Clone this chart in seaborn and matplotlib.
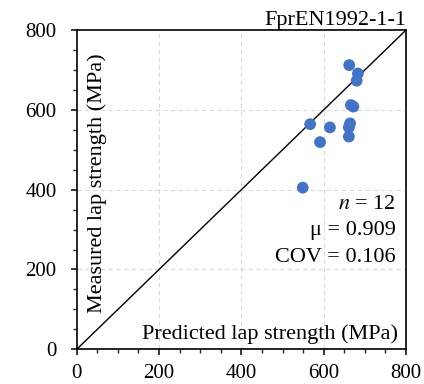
import matplotlib
matplotlib.use("Agg")
import matplotlib.pyplot as plt
import seaborn as sns
import pandas as pd
from matplotlib.ticker import MultipleLocator

predicted = [662, 683, 680, 666, 672, 567, 615, 664, 661, 661, 591, 549]
measured = [712, 691, 673, 612, 608, 564, 556, 566, 556, 533, 519, 405]
ticks = [0, 200, 400, 600, 800]

df = pd.DataFrame({"Predicted": predicted, "Measured": measured})

sns.set_theme(style="white")
plt.rcParams['font.family'] = ['Liberation Serif', 'DejaVu Serif']
plt.rcParams['mathtext.fontset'] = 'stix'

fig = plt.figure(figsize=(4.24, 3.84), dpi=100)
ax = fig.add_axes([0.181, 0.0904, 0.7767, 0.8315])

for v in [200, 400, 600]:
    ax.axhline(v, color='#d9d9d9', lw=0.8, ls=(0, (4, 3)), zorder=0)
    ax.axvline(v, color='#d9d9d9', lw=0.8, ls=(0, (4, 3)), zorder=0)

ax.plot([0, 800], [0, 800], color='black', lw=1.0, zorder=1)
sns.scatterplot(data=df, x="Predicted", y="Measured", ax=ax, color='#4472C4',
                s=72, edgecolor='none', zorder=3, legend=False)

ax.set_xlim(0, 800)
ax.set_ylim(0, 800)
ax.set_xticks(ticks)
ax.set_yticks(ticks)
ax.xaxis.set_minor_locator(MultipleLocator(50))
ax.yaxis.set_minor_locator(MultipleLocator(50))
ax.tick_params(axis='both', which='major', direction='out', length=4.5, width=1.1,
               labelsize=15, colors='black', bottom=True, left=True)
ax.tick_params(axis='x', which='major', pad=6)
ax.tick_params(axis='y', which='major', pad=10)
ax.tick_params(axis='both', which='minor', direction='out', length=3, width=1.0,
               bottom=True, left=True)
for s in ax.spines.values():
    s.set_color('black')
    s.set_linewidth(1.2)
ax.set_xlabel("")
ax.set_ylabel("")

ax.set_title("FprEN1992-1-1", loc='right', fontsize=16, color='black', pad=3.5)
ax.text(0.9757, 0.032, "Predicted lap strength (MPa)", transform=ax.transAxes,
        ha='right', va='baseline', fontsize=16, color='black')
ax.text(0.033, 0.52, "Measured lap strength (MPa)", transform=ax.transAxes,
        ha='left', va='center', rotation=90, fontsize=16, color='black')
stats = ["$n$ = 12", "μ = 0.909", "COV = 0.106"]
for txt, yy in zip(stats, [0.4394, 0.358, 0.2743]):
    ax.text(0.9697, yy, txt, transform=ax.transAxes, ha='right', va='baseline',
            fontsize=16, color='black')

fig.savefig("out.png", dpi=100)
